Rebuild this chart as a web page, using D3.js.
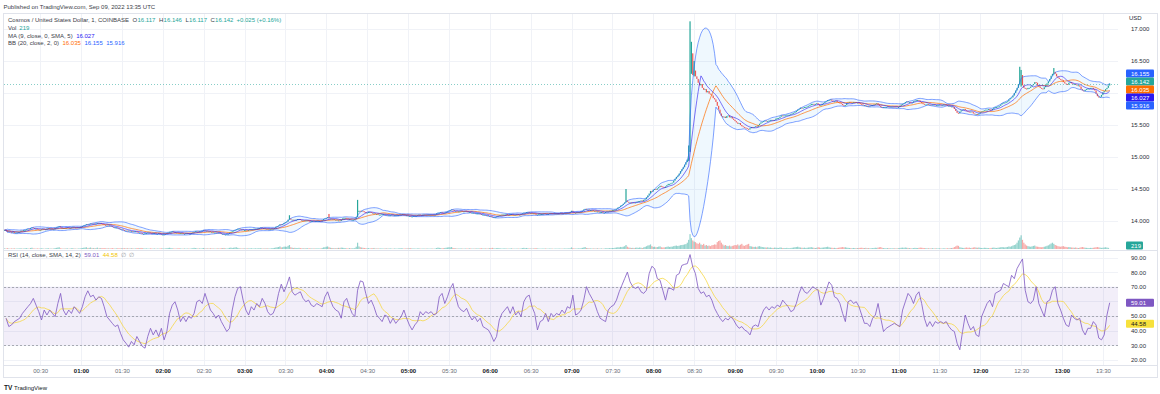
<!DOCTYPE html>
<html><head><meta charset="utf-8">
<script src="https://cdn.jsdelivr.net/npm/d3@7"></script>
<style>
html,body{margin:0;padding:0;background:#fff;}
svg{display:block;font-family:"Liberation Sans",Arial,sans-serif;}
</style></head><body>
<svg id="chart" width="1160" height="394"></svg>
<script>
// ---------------- DATA ----------------
const firstCandle = "2022-09-09T00:04:00Z";   // 1-minute candles
const closes = [
13.86,13.85,13.83,13.84,13.83,13.82,13.83,13.81,13.82,13.82,13.83,13.83,13.85,13.84,13.86,13.86,13.87,13.88,13.87,13.89,13.90,13.89,13.88,13.88,13.87,13.86,
13.86,13.87,13.88,13.87,13.87,13.88,13.89,13.88,13.88,13.87,13.87,13.89,13.90,13.91,13.92,13.90,13.89,13.89,13.88,13.89,13.90,13.89,13.89,13.90,13.91,13.90,13.90,13.89,13.90,13.90,
13.91,13.92,13.93,13.94,13.95,13.94,13.95,13.96,13.95,13.96,13.95,13.96,13.97,13.96,13.97,13.96,13.95,13.94,13.93,13.93,13.92,13.93,13.92,13.91,13.90,13.90,13.90,13.89,13.88,13.87,
13.87,13.86,13.85,13.85,13.84,13.85,13.84,13.84,13.83,13.84,13.84,13.83,13.82,13.82,13.81,13.80,13.80,13.81,13.81,13.82,13.82,13.81,13.80,13.81,13.81,13.80,13.80,13.81,13.80,13.79,
13.79,13.79,13.80,13.81,13.82,13.83,13.83,13.84,13.83,13.82,13.82,13.81,13.80,13.81,13.81,13.80,13.80,13.81,13.81,13.80,13.80,13.81,13.82,13.83,13.84,13.84,13.83,13.84,13.84,13.85,
13.86,13.85,13.85,13.84,13.84,13.83,13.83,13.82,13.82,13.82,13.81,13.82,13.81,13.80,13.80,13.79,13.79,13.80,13.80,13.82,13.83,13.84,13.85,13.86,13.87,13.88,13.88,13.87,13.87,13.86,
13.86,13.86,13.85,13.86,13.87,13.87,13.87,13.88,13.88,13.88,13.89,13.89,13.90,13.89,13.89,13.88,13.88,13.87,13.87,13.87,13.88,13.88,13.89,13.91,13.92,13.93,13.95,13.94,13.95,13.97,
13.98,13.99,14.02,14.04,14.02,14.02,14.01,14.02,14.02,14.03,14.03,14.02,14.01,14.01,14.00,14.01,14.01,14.00,13.99,14.00,14.00,13.99,14.00,14.00,14.00,14.00,13.99,14.01,14.03,14.04,
14.05,14.06,14.04,14.04,14.03,14.03,14.02,14.02,14.01,14.01,14.00,14.02,14.04,14.05,14.05,14.04,14.03,14.03,14.02,14.02,14.02,14.03,14.06,14.14,14.16,14.15,14.16,14.15,14.14,14.13,
14.13,14.14,14.14,14.13,14.12,14.12,14.11,14.11,14.10,14.10,14.10,14.11,14.11,14.10,14.10,14.09,14.09,14.09,14.10,14.09,14.09,14.09,14.09,14.09,14.10,14.10,14.11,14.10,14.09,14.09,
14.08,14.08,14.07,14.07,14.08,14.08,14.08,14.09,14.10,14.09,14.09,14.10,14.10,14.09,14.10,14.10,14.10,14.10,14.09,14.10,14.10,14.12,14.13,14.13,14.14,14.13,14.12,14.13,14.14,14.15,
14.16,14.17,14.18,14.17,14.16,14.16,14.15,14.15,14.15,14.16,14.15,14.15,14.16,14.15,14.14,14.14,14.13,14.13,14.13,14.12,14.12,14.12,14.12,14.11,14.10,14.10,14.10,14.09,14.09,14.08,
14.08,14.07,14.06,14.06,14.06,14.07,14.08,14.09,14.09,14.10,14.10,14.10,14.11,14.10,14.10,14.11,14.11,14.10,14.10,14.10,14.11,14.10,14.10,14.11,14.12,14.13,14.13,14.14,14.14,14.13,
14.13,14.12,14.12,14.11,14.10,14.10,14.11,14.11,14.11,14.11,14.12,14.11,14.11,14.11,14.12,14.12,14.11,14.12,14.12,14.12,14.12,14.12,14.13,14.12,14.12,14.13,14.13,14.13,14.13,14.14,
14.16,14.14,14.13,14.13,14.14,14.14,14.14,14.15,14.16,14.18,14.19,14.18,14.18,14.17,14.17,14.17,14.16,14.16,14.15,14.15,14.14,14.14,14.14,14.13,14.13,14.14,14.15,14.15,14.16,14.16,
14.17,14.17,14.18,14.19,14.21,14.22,14.24,14.25,14.27,14.29,14.32,14.30,14.29,14.29,14.28,14.29,14.28,14.29,14.30,14.31,14.31,14.32,14.31,14.33,14.34,14.37,14.40,14.43,14.47,14.46,
14.49,14.50,14.49,14.51,14.53,14.55,14.54,14.53,14.52,14.54,14.56,14.58,14.58,14.59,14.60,14.63,14.66,14.69,14.71,14.74,14.78,14.81,14.84,14.88,14.92,14.96,15.10,16.38,16.46,16.32,
16.35,16.26,16.22,16.16,16.12,16.14,16.08,16.05,16.06,16.01,16.03,15.99,15.98,15.96,15.92,15.90,15.86,15.80,15.74,15.68,15.64,15.62,15.63,15.61,15.64,15.65,15.62,15.63,15.60,15.58,
15.56,15.54,15.52,15.53,15.50,15.48,15.47,15.46,15.45,15.44,15.43,15.45,15.47,15.46,15.47,15.48,15.47,15.50,15.52,15.54,15.55,15.56,15.57,15.56,15.56,15.57,15.58,15.58,15.57,15.58,
15.60,15.61,15.61,15.63,15.65,15.64,15.65,15.65,15.66,15.66,15.66,15.67,15.68,15.69,15.70,15.72,15.74,15.75,15.77,15.76,15.77,15.78,15.78,15.79,15.80,15.81,15.83,15.83,15.82,15.83,
15.84,15.82,15.80,15.81,15.83,15.84,15.86,15.87,15.89,15.89,15.90,15.88,15.87,15.87,15.88,15.86,15.85,15.84,15.83,15.81,15.80,15.81,15.84,15.85,15.86,15.85,15.85,15.86,15.86,15.85,
15.85,15.84,15.83,15.82,15.81,15.81,15.80,15.80,15.79,15.80,15.81,15.81,15.82,15.83,15.84,15.82,15.80,15.78,15.77,15.78,15.78,15.78,15.79,15.78,15.79,15.79,15.79,15.78,15.79,15.78,
15.78,15.80,15.82,15.83,15.84,15.86,15.87,15.86,15.86,15.85,15.85,15.87,15.88,15.89,15.89,15.88,15.86,15.84,15.83,15.82,15.82,15.83,15.82,15.82,15.81,15.82,15.82,15.81,15.81,15.81,
15.82,15.81,15.81,15.82,15.82,15.81,15.80,15.80,15.79,15.79,15.78,15.75,15.72,15.69,15.68,15.71,15.73,15.74,15.75,15.73,15.72,15.71,15.70,15.71,15.70,15.68,15.67,15.67,15.66,15.68,
15.70,15.71,15.72,15.73,15.74,15.74,15.75,15.74,15.73,15.75,15.77,15.78,15.78,15.79,15.80,15.82,15.84,15.85,15.85,15.86,15.87,15.90,15.92,15.93,15.96,16.00,16.04,16.08,16.14,16.24,
16.28,16.12,16.08,16.07,16.06,16.08,16.08,16.10,16.12,16.14,16.17,16.16,16.12,16.10,16.08,16.07,16.06,16.09,16.12,16.15,16.18,16.22,16.27,16.30,16.33,16.30,16.26,16.24,16.22,16.21,
16.20,16.17,16.15,16.14,16.13,16.16,16.17,16.15,16.14,16.14,16.13,16.12,16.12,16.10,16.06,16.04,16.03,16.05,16.06,16.07,16.07,16.08,16.08,16.06,16.04,15.99,15.95,15.93,15.94,15.97,16.01,16.03,16.06,16.08,16.117,16.142
];
// volume per candle, in hundreds of ATOM
const volumeHundreds = [
12,8,15,9,6,11,7,14,5,9,8,10,13,6,9,12,15,8,7,18,22,10,9,7,11,8,
9,12,10,6,8,11,14,7,9,6,10,16,20,25,30,12,9,7,8,10,11,6,8,12,14,9,7,6,10,8,
14,18,22,25,30,16,20,26,14,18,12,16,24,10,18,12,14,16,12,10,14,8,12,16,10,9,11,14,12,10,
16,12,14,10,15,9,11,13,12,8,10,14,16,12,18,15,10,9,11,8,7,12,9,8,10,6,9,7,10,12,
11,8,10,14,18,22,16,12,10,9,8,12,14,9,7,8,10,6,9,8,7,10,14,20,16,12,9,11,8,12,
18,10,9,12,8,14,9,11,7,8,12,9,10,14,16,18,10,8,12,20,24,18,22,26,30,20,14,10,9,12,
10,8,12,9,11,14,8,10,12,9,14,10,16,9,8,12,10,11,9,8,14,16,20,26,30,35,45,28,30,40,
42,38,55,70,30,22,18,20,16,14,20,16,12,14,10,12,16,9,14,10,8,12,9,10,11,8,12,18,28,30,
40,45,30,22,18,16,12,14,16,20,18,24,22,18,14,12,10,16,12,14,10,18,40,110,45,30,26,20,18,14,
12,16,10,14,12,18,10,9,12,8,11,9,7,10,12,8,9,11,7,6,10,8,7,9,12,14,10,8,11,9,
14,12,16,10,8,9,7,10,12,8,6,9,7,8,10,6,7,9,8,6,9,18,24,20,16,12,14,18,22,26,
30,28,34,18,14,12,10,8,9,11,8,7,10,8,9,12,10,8,7,9,11,8,10,12,14,10,9,12,8,10,
16,14,20,12,10,14,18,12,10,8,9,11,10,7,8,9,12,8,7,6,9,8,7,10,16,20,14,18,12,10,
9,8,10,12,16,10,8,7,6,9,8,10,7,6,9,8,7,5,8,6,7,9,6,8,7,10,9,8,11,12,
28,14,10,8,9,12,10,14,20,26,34,18,14,12,10,9,11,8,10,12,9,8,10,7,9,12,14,12,16,14,
18,16,22,26,30,28,36,32,40,48,70,40,26,22,18,20,16,22,24,20,26,22,18,28,36,48,60,66,80,50,
36,40,30,34,42,46,30,26,28,32,38,44,36,40,42,50,56,60,52,58,66,70,74,80,86,110,160,260,190,150,
130,120,100,90,110,80,70,90,60,70,55,60,50,65,70,80,75,120,140,150,110,80,60,70,55,50,60,45,55,60,
70,65,80,60,75,90,60,55,70,80,90,50,45,40,35,40,30,45,50,40,35,30,28,25,30,22,26,20,18,24,
22,20,18,26,24,16,18,14,20,16,12,18,22,26,30,34,40,30,26,22,20,24,18,22,26,28,32,26,20,18,
22,30,26,20,24,26,30,34,40,30,24,22,18,20,16,18,22,26,30,34,28,30,24,20,18,16,14,18,16,14,
16,18,20,22,18,16,20,14,16,12,14,16,18,22,20,24,30,34,20,16,14,12,16,14,12,10,14,12,10,12,
14,18,22,24,20,26,22,18,16,14,12,16,20,18,16,20,24,22,18,16,14,12,14,10,12,14,10,12,11,10,
12,10,9,11,12,10,14,12,16,18,20,34,46,60,55,30,24,20,18,22,26,20,24,18,20,26,30,24,22,26,
20,18,16,22,20,18,16,14,18,22,24,20,18,22,26,30,34,30,28,32,36,44,40,48,60,70,80,110,150,200,
240,160,110,80,60,50,44,40,46,54,60,44,40,36,32,30,34,40,46,56,64,80,96,110,90,70,60,50,44,40,
46,50,40,36,30,34,30,26,24,22,26,20,18,22,30,34,28,22,20,18,16,20,18,22,26,30,34,28,24,20,22,26,30,24,20,2.19
];
// candle extremes that stick out of the bodies: [time, high, low]
const wicks = [
["03:33",14.09,14.02],["04:02",14.11,14.04],["04:23",14.33,14.06],["07:40",14.50,14.29],
["08:26",15.18,14.94],["08:27",17.12,15.08],["08:28",16.80,16.30],["08:29",16.62,16.28],["08:30",16.50,16.26],
["12:29",16.41,16.13],["12:30",16.36,16.10],["12:54",16.39,16.29],["13:35",16.146,16.117]
];
// RSI(14), one reading every 2 minutes
const rsiStart = "2022-09-09T00:05:00Z";
const rsiStepMin = 2;
const rsiValues = [
48.4,42.7,43.8,46,47.2,48.4,51.7,54,56.3,58.5,62,57.4,52.9,47.2,54,50.6,54,51.7,49.5,58.5,65.4,54,50.6,54,51.7,56.3,54,51.7,
56.3,63.1,67.2,63.1,64.2,60.8,63.1,62,56.3,49.5,47.2,44.9,42.7,43.8,38.1,33.6,31.3,28.6,32.5,30.2,35.9,32.5,29.1,27.9,35.9,41.5,37,40.4,35.9,41.5,
33.6,39.3,51.7,57.4,59.7,54,46.1,49.5,46.1,49.5,48.4,51.7,59.7,60.8,58.5,65.4,59.7,54,51.7,48.4,50.6,46.1,42.7,39.3,41.5,54,63.1,68.8,70,60.8,
54,50.6,56.3,54,58.5,56.3,62,58.5,52.9,50.6,51.7,56.3,65.4,71.7,66.5,71,76.7,66.5,64.2,65.4,66.5,62,59.7,60.8,57.4,56.3,58.5,57.4,56.3,63.1,
66.5,60.8,56.3,54,52.9,48.4,59.7,62,56.3,51.7,49.5,67.6,74,73.3,65.4,58.5,60.8,56.3,50.6,48.4,46.1,50.6,49.5,44.9,48.4,44.9,47.2,49.5,54,48.4,
43.8,40.4,43.8,46.1,52.9,50.6,52.9,51.7,52.9,50.6,51.7,63.1,65.4,58.5,63.1,68.8,72.2,63.1,56.3,54,52.9,55.2,50.6,47.2,49.5,46.1,48.4,42.7,41.5,40.4,
37,32.5,35.9,47.2,51.7,54,56.3,51.7,56.3,50.6,52.9,49.5,59.7,63.1,64.2,56.3,51.7,40.4,46.1,47.2,51.7,46.1,51.7,49.5,51.7,50.6,54,51.7,56.3,55.2,
64.2,50.6,51.7,54,60.8,70,65.4,62,58.5,52.9,48.4,47.2,46.1,54,56.3,57.4,60.8,66.5,71,75.5,80,73.3,70,68.8,70,66.5,65.4,67.6,78.9,84,
82.4,75.5,74.4,67.6,60.8,68.8,68.8,67.6,77.8,78.9,84.6,85.3,85.8,92,83.5,78.9,68.8,65.4,66.5,63.1,64.2,60.8,55.2,51.7,48.4,46.1,48.4,47.2,49.5,47.2,
43.8,41.5,42.7,40.4,39.3,37,42.7,43.8,42.7,49.5,54,56.3,54,56.3,55.2,57.4,56.3,60.8,58.5,56.3,52.9,54,58.5,65.4,70,66.5,65.4,67.6,70,68.8,
67.6,57.4,62,67.6,73.3,71,63.1,62,58.5,51.7,46.1,59.7,60.8,58.5,59.7,56.3,50.6,44.9,44.9,42.7,48.4,50.6,58.5,48.4,39.3,41.5,42.7,43.8,44.9,43.8,
42.7,54,59.7,65.4,63.1,58.5,64.2,66.5,58.5,48.4,42.7,46.1,42.7,46.1,44.9,46.1,44.9,46.1,42.7,40.4,39.3,31.3,26.8,39.3,50.6,44.9,40.4,42.7,37,35.9,
49.5,54,58.5,60.8,56.3,65.4,66.5,67.6,72.2,71,70,77.8,75.5,82.4,85.8,89,67.6,59.7,58.5,60.8,70,58.5,54,49.5,59.7,60.8,67.6,70,58.5,54,
48.4,43.8,42.7,50.6,48.4,47.2,48.4,40.4,37,41.5,41.5,46.1,43.8,34.8,33.6,37,50.6,59.01
];
const priceTicks = [14, 14.5, 15, 15.5, 16, 16.5, 17];
const rsiTicks = [20, 30, 40, 50, 60, 70, 80, 90];
const rsiLevels = [70, 50, 30];
const priceBadgeValues = [16.155, 16.142, 16.035, 16.027, 15.916]; // BB upper, last, BB basis, MA, BB lower
const rsiBadgeValues = [59.01, 44.58];
const volBadgeText = "219";
const headerText = "Published on TradingView.com, Sep 09, 2022 13:35 UTC";
const symbolTitle = "Cosmos / United States Dollar, 1, COINBASE";
const ohlcLetters = ["O", "H", "L", "C"];
const ohlcValues = ["16.117", "16.146", "16.117", "16.142"];
const changeText = "+0.025 (+0.16%)";
const maTitle = "MA (9, close, 0, SMA, 5)";
const maValueText = "16.027";
const bbTitle = "BB (20, close, 2, 0)";
const bbValueTexts = ["16.035", "16.155", "15.916"];
const rsiTitle = "RSI (14, close, SMA, 14, 2)";
const rsiValueTexts = ["59.01", "44.58"];

// ---------------- LAYOUT ----------------
const plotL = 4, plotR = 1118;
const mainTop = 14, mainBot = 250;
const rsiTop = 251, rsiBot = 365;
const FS = 6;
const GREEN = "#26a69a", RED = "#ef5350";
const BBC = "#2962ff", BASIS = "#ff6d00", MAC = "#2b19f2";
const RSIC = "#7e57c2", RSIMA = "#f5d63c";

const svg = d3.select("#chart");
const parse = d3.utcParse("%Y-%m-%dT%H:%M:%SZ");
const fmtHM = d3.utcFormat("%H:%M");
const t0 = parse(firstCandle);

const x = d3.scaleUtc()
  .domain([parse("2022-09-09T01:00:00Z"), parse("2022-09-09T13:00:00Z")])
  .range([81, 1062]);
const yP = d3.scaleLinear().domain([14, 17]).range([221, 29]);
const yR = d3.scaleLinear().domain([20, 90]).range([359.7, 257.5]);
const vH = d3.scaleLinear().domain([0, 350]).range([0, 20]);

const wickMap = new Map(wicks.map(w => [w[0], w]));
const candles = closes.map((c, i) => {
  const time = d3.utcMinute.offset(t0, i);
  const open = i ? closes[i - 1] : c;
  let high = Math.max(open, c), low = Math.min(open, c);
  const w = wickMap.get(fmtHM(time));
  if (w) { high = Math.max(high, w[1]); low = Math.min(low, w[2]); }
  return { time, open, close: c, high, low, vol: volumeHundreds[i] };
});
const bb = candles.map((d, i) => {
  const win = closes.slice(Math.max(0, i - 19), i + 1);
  const m = d3.mean(win);
  const sd = Math.sqrt(d3.mean(win, v => (v - m) * (v - m)));
  return { time: d.time, basis: m, upper: m + 2 * sd, lower: m - 2 * sd };
});
const ma = candles.map((d, i) => ({ time: d.time, v: d3.mean(closes.slice(Math.max(0, i - 8), i + 1)) }));
const rsiT0 = parse(rsiStart);
const rsi = rsiValues.map((v, i) => ({ time: d3.utcMinute.offset(rsiT0, i * rsiStepMin), v }));
const rsiMa = rsi.map((d, i) => ({ time: d.time, v: d3.mean(rsiValues.slice(Math.max(0, i - 6), i + 1)) }));

// defs / clips
const defs = svg.append("defs");
defs.append("clipPath").attr("id", "clipMain").append("rect")
  .attr("x", plotL).attr("y", mainTop).attr("width", plotR - plotL).attr("height", mainBot - mainTop);
defs.append("clipPath").attr("id", "clipRsi").append("rect")
  .attr("x", plotL).attr("y", rsiTop).attr("width", plotR - plotL).attr("height", rsiBot - rsiTop);

// header
svg.append("text").attr("x", 3.5).attr("y", 8.8).attr("font-size", FS).attr("fill", "#3b3e48").text(headerText);

// grid
const timeTicks = d3.utcMinute.every(30).range(x.invert(plotL), x.invert(plotR));
const grid = svg.append("g").attr("stroke", "#f0f2f7").attr("stroke-width", 1);
timeTicks.forEach(t => {
  const xx = Math.round(x(t)) + 0.5;
  grid.append("line").attr("x1", xx).attr("x2", xx).attr("y1", mainTop).attr("y2", mainBot);
  grid.append("line").attr("x1", xx).attr("x2", xx).attr("y1", rsiTop).attr("y2", rsiBot);
});
priceTicks.forEach(p => {
  const yy = Math.round(yP(p)) + 0.5;
  grid.append("line").attr("x1", plotL).attr("x2", plotR).attr("y1", yy).attr("y2", yy);
});
rsiTicks.forEach(r => {
  const yy = Math.round(yR(r)) + 0.5;
  grid.append("line").attr("x1", plotL).attr("x2", plotR).attr("y1", yy).attr("y2", yy);
});

// ---------- main pane ----------
const main = svg.append("g").attr("clip-path", "url(#clipMain)");
main.append("g").selectAll("rect").data(candles).join("rect")
  .attr("x", d => x(d.time) - 0.6).attr("width", 1.2)
  .attr("y", d => mainBot - 1 - vH(d.vol)).attr("height", d => vH(d.vol))
  .attr("fill", d => d.close >= d.open ? "rgba(38,166,154,0.5)" : "rgba(239,83,80,0.5)");
main.append("path").datum(bb)
  .attr("d", d3.area().x(d => x(d.time)).y0(d => yP(d.lower)).y1(d => yP(d.upper)))
  .attr("fill", "rgba(33,150,243,0.07)");
main.append("g").selectAll("rect").data(candles).join("rect")
  .attr("x", d => x(d.time) - 0.6).attr("width", 1.2)
  .attr("y", d => yP(d.high)).attr("height", d => Math.max(0.9, yP(d.low) - yP(d.high)))
  .attr("fill", d => d.close >= d.open ? GREEN : RED);
const lineOf = (acc) => d3.line().x(d => x(d.time)).y(d => yP(acc(d)));
main.append("path").datum(bb).attr("d", lineOf(d => d.upper)).attr("fill", "none").attr("stroke", BBC).attr("stroke-opacity", 0.6).attr("stroke-width", 1);
main.append("path").datum(bb).attr("d", lineOf(d => d.lower)).attr("fill", "none").attr("stroke", BBC).attr("stroke-opacity", 0.6).attr("stroke-width", 1);
main.append("path").datum(bb).attr("d", lineOf(d => d.basis)).attr("fill", "none").attr("stroke", BASIS).attr("stroke-opacity", 0.7).attr("stroke-width", 1);
main.append("path").datum(ma).attr("d", lineOf(d => d.v)).attr("fill", "none").attr("stroke", MAC).attr("stroke-opacity", 0.6).attr("stroke-width", 1);
const lastY = Math.round(yP(closes[closes.length - 1])) + 0.5;
svg.append("line").attr("x1", plotL).attr("x2", plotR).attr("y1", lastY).attr("y2", lastY)
  .attr("stroke", GREEN).attr("stroke-opacity", 0.55).attr("stroke-dasharray", "1,2");

// ---------- RSI pane ----------
svg.append("rect").attr("x", plotL).attr("width", plotR - plotL)
  .attr("y", yR(70)).attr("height", yR(30) - yR(70)).attr("fill", "rgba(126,87,194,0.1)");
rsiLevels.forEach(l => {
  const yy = Math.round(yR(l)) + 0.5;
  svg.append("line").attr("x1", plotL).attr("x2", plotR).attr("y1", yy).attr("y2", yy)
    .attr("stroke", "#9598a1").attr("stroke-dasharray", "2,2").attr("stroke-opacity", 0.8);
});
const rg = svg.append("g").attr("clip-path", "url(#clipRsi)");
const rline = d3.line().x(d => x(d.time)).y(d => yR(d.v));
rg.append("path").datum(rsiMa).attr("d", rline).attr("fill", "none").attr("stroke", RSIMA).attr("stroke-opacity", 0.75).attr("stroke-width", 1);
rg.append("path").datum(rsi).attr("d", rline).attr("fill", "none").attr("stroke", RSIC).attr("stroke-opacity", 0.8).attr("stroke-width", 1);

// ---------- frame ----------
const frame = svg.append("g").attr("stroke", "#e0e3eb").attr("fill", "none");
frame.append("rect").attr("x", 3.5).attr("y", 13.5).attr("width", 1154).attr("height", 364);
frame.append("line").attr("x1", 3.5).attr("x2", 1157.5).attr("y1", 250.5).attr("y2", 250.5);
frame.append("line").attr("x1", 3.5).attr("x2", 1157.5).attr("y1", 365.5).attr("y2", 365.5);

// ---------- axes ----------
const styleAxis = g => {
  g.select(".domain").remove();
  g.selectAll("text").attr("font-size", FS).attr("font-family", "Liberation Sans, Arial, sans-serif").attr("fill", "#2a2e39");
};
svg.append("g").attr("transform", "translate(1131,0)")
  .call(d3.axisRight(yP).tickValues(priceTicks).tickFormat(d3.format(".3f")).tickSize(0).tickPadding(0))
  .call(styleAxis);
svg.append("g").attr("transform", "translate(1131,0)")
  .call(d3.axisRight(yR).tickValues(rsiTicks).tickFormat(d3.format(".2f")).tickSize(0).tickPadding(0))
  .call(styleAxis);
svg.append("text").attr("x", 1129).attr("y", 19.5).attr("font-size", FS).attr("fill", "#2a2e39").text("USD");
const xAxisG = svg.append("g").attr("transform", "translate(0,366)")
  .call(d3.axisBottom(x).tickValues(timeTicks).tickFormat(fmtHM).tickSize(0).tickPadding(3))
  .call(styleAxis);
xAxisG.selectAll("text")
  .attr("font-weight", d => d.getUTCMinutes() === 0 ? "bold" : "normal")
  .attr("fill", d => d.getUTCMinutes() === 0 ? "#131722" : "#6a6d78");

// ---------- badges ----------
function spread(items, h) {
  const arr = items.map(d => ({ ...d, y: d.y0 })).sort((a, b) => a.y0 - b.y0);
  for (let iter = 0; iter < 50; iter++) {
    let moved = false;
    for (let i = 1; i < arr.length; i++) {
      const gap = arr[i].y - arr[i - 1].y;
      if (gap < h - 0.01) { const s = (h - gap) / 2; arr[i].y += s; arr[i - 1].y -= s; moved = true; }
    }
    if (!moved) break;
  }
  return arr;
}
const badgeColors = [BBC, GREEN, BASIS, MAC, BBC];
const pb = spread(priceBadgeValues.map((v, i) => ({ v, y0: yP(v), c: badgeColors[i] })), 8);
const badge = (y, color, text, textColor, w) => {
  svg.append("rect").attr("x", 1126).attr("y", y - 4).attr("width", w || 28).attr("height", 8).attr("rx", 1).attr("fill", color);
  svg.append("text").attr("x", 1131).attr("y", y).attr("dy", "0.34em").attr("font-size", FS).attr("fill", textColor).text(text);
};
pb.forEach(d => badge(d.y, d.c, d3.format(".3f")(d.v), "#fff"));
badge(245.5, GREEN, volBadgeText, "#fff", 17);
badge(yR(rsiBadgeValues[0]), RSIC, d3.format(".2f")(rsiBadgeValues[0]), "#fff");
badge(yR(rsiBadgeValues[1]), "#f7e13c", d3.format(".2f")(rsiBadgeValues[1]), "#131722");

// ---------- legends (flowing text) ----------
const TXT = "#3b3e48";
function legendRow(y, parts) {
  const t = svg.append("text").attr("x", 8).attr("y", y).attr("font-size", FS).attr("fill", TXT);
  parts.forEach(p => t.append("tspan").attr("dx", p[2] || 0).attr("fill", p[1]).text(p[0]));
}
const ohlcParts = [];
ohlcLetters.forEach((l, i) => { ohlcParts.push([l, TXT, 3.5]); ohlcParts.push([ohlcValues[i], GREEN, 0.3]); });
legendRow(22, [[symbolTitle, TXT]].concat(ohlcParts, [[changeText, GREEN, 3]]));
legendRow(30.3, [["Vol", TXT], [volBadgeText, GREEN, 3]]);
legendRow(37.6, [[maTitle, TXT], [maValueText, MAC, 3.5]]);
legendRow(45.4, [[bbTitle, TXT], [bbValueTexts[0], BASIS, 3.5], [bbValueTexts[1], BBC, 3.5], [bbValueTexts[2], BBC, 3.5]]);
legendRow(257.2, [[rsiTitle, TXT], [rsiValueTexts[0], RSIC, 3.5], [rsiValueTexts[1], "#f2c500", 3.5], ["\u2205", "#9598a1", 3.5], ["\u2205", "#9598a1", 3]]);

// logo
svg.append("text").attr("x", 4).attr("y", 389.5).attr("font-size", 6.5).attr("font-weight", "bold").attr("fill", "#131722").text("TV");
svg.append("text").attr("x", 14).attr("y", 389.5).attr("font-size", FS).attr("fill", "#131722").text("TradingView");
</script></body></html>
